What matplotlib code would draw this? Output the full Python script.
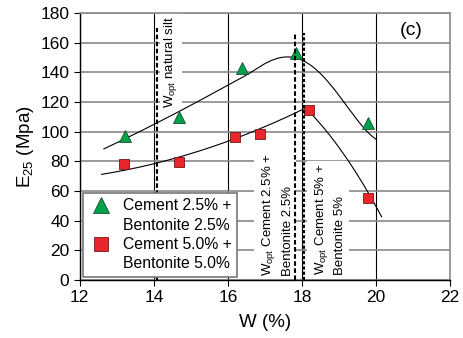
# E25 modulus vs water content, cement + bentonite mixes (panel c)

import numpy as np
import matplotlib
matplotlib.use("Agg")
import matplotlib.pyplot as plt
from matplotlib.lines import Line2D

plt.rcParams["font.family"] = ["Liberation Sans", "DejaVu Sans"]
plt.rcParams["mathtext.default"] = "regular"

# ==========================
# Data
# ==========================

# Cement 2.5% + Bentonite 2.5%
w_cb25 = [13.22, 14.68, 16.37, 17.83, 19.77]
e_cb25 = [97, 110, 143, 153, 105.6]

# Cement 5.0% + Bentonite 5.0%
w_cb50 = [13.18, 14.68, 16.19, 16.86, 18.19, 19.78]
e_cb50 = [78, 79.5, 96, 98, 114.6, 55.5]

# trend curves as drawn in the figure (rising part / peak + falling part)
curve25_up_w = [12.65, 13.98, 15.51, 15.78, 15.92, 16.37]
curve25_up_e = [88.3, 104.5, 124, 128, 131.5, 136]
curve25_dn_w = [15.92, 16.37, 16.64, 17.18, 17.68, 18.00,
                18.35, 18.62, 19.12, 19.57, 19.99]
curve25_dn_e = [131.5, 136, 140, 147.2, 151.2, 149.4,
                141.6, 134.8, 120, 106.7, 94.4]

curve50_up_w = [12.59, 13.98, 15.51, 16.19, 16.86, 18.04]
curve50_up_e = [70.8, 78.7, 89.4, 95.5, 100.5, 115.7]
curve50_dn_w = [18.04, 18.31, 19.12, 19.75, 20.15]
curve50_dn_e = [115.7, 112.3, 85.4, 58.4, 43.8]

# optimum water contents
w_opt_silt = 14.08
w_opt_25 = 17.81
w_opt_50 = 18.05

x_ticks = [12, 14, 16, 18, 20, 22]
y_ticks = list(range(0, 181, 20))

green = "#00a14b"
red = "#e8262c"

# ==========================
# Figure
# ==========================

fig = plt.figure(figsize=(4.64, 3.38), dpi=100)
ax = fig.add_axes([0.172, 0.172, 0.798, 0.790])

ax.set_xlim(12, 22)
ax.set_ylim(0, 180)
ax.set_xticks(x_ticks)
ax.set_yticks(y_ticks)
ax.tick_params(direction="out", length=4, labelsize=12.5, colors="black")

ax.set_axisbelow(True)
ax.xaxis.grid(True, color="black", lw=0.8)
ax.yaxis.grid(True, color="#8a8a8a", lw=1.2)
for s in ["top", "right"]:
    ax.spines[s].set_color("#8a8a8a")
    ax.spines[s].set_linewidth(1.2)
for s in ["left", "bottom"]:
    ax.spines[s].set_linewidth(1.0)

# smoothed trend curves
def smooth(xs, ys, deg):
    p = np.polyfit(xs, ys, deg)
    xx = np.linspace(xs[0], xs[-1], 200)
    return xx, np.polyval(p, xx)

# upper curve: blend the rising fit into the peak fit
p_up = np.polyfit(curve25_up_w, curve25_up_e, 2)
p_dn = np.polyfit(curve25_dn_w, curve25_dn_e, 4)
xx = np.linspace(curve25_up_w[0], curve25_dn_w[-1], 300)
t = np.clip((xx - 16.0) / 0.8, 0, 1)
t = t * t * (3 - 2 * t)
yy = (1 - t) * np.polyval(p_up, xx) + t * np.polyval(p_dn, xx)
ax.plot(xx, yy, color="black", lw=0.8, zorder=3)

for cw, ce, deg in [(curve50_up_w, curve50_up_e, 2),
                    (curve50_dn_w, curve50_dn_e, 2)]:
    xx, yy = smooth(cw, ce, deg)
    ax.plot(xx, yy, color="black", lw=0.8, zorder=3)

ax.plot(w_cb25, e_cb25, "^", ms=8.5, mfc=green, mec="#1d4d2a", mew=0.6, zorder=4)
ax.plot(w_cb50, e_cb50, "s", ms=7.5, mfc=red, mec="#7a1414", mew=0.6, zorder=4)

# optimum lines
ax.plot([w_opt_silt, w_opt_silt], [0, 170], color="black", lw=1.5, ls=(0, (2.2, 1.2)), zorder=5)
ax.plot([w_opt_25, w_opt_25], [0, 166.5], color="black", lw=1.5, ls=(0, (2.2, 1.2)), zorder=5)
ax.plot([w_opt_50, w_opt_50], [0, 166.5], color="black", lw=1.5, ls=(0, (1.5, 1.0)), zorder=5)

box = dict(facecolor="white", edgecolor="none", pad=2)
ax.text(14.46, 116, "W$_{opt}$ natural silt", rotation=90, rotation_mode="anchor",
        ha="left", va="center", fontsize=9.5, bbox=box, zorder=2)
ax.text(17.32, 2.5, "W$_{opt}$ Cement 2.5% +\nBentonite 2.5%", rotation=90,
        rotation_mode="anchor", ha="left", va="center", multialignment="left",
        linespacing=1.5, fontsize=9.5, bbox=box, zorder=2)
ax.text(18.74, 3, "W$_{opt}$ Cement 5% +\nBentonite 5%", rotation=90,
        rotation_mode="anchor", ha="left", va="center", multialignment="left",
        linespacing=1.5, fontsize=9.5, bbox=box, zorder=2)

ax.text(20.95, 168, "(c)", fontsize=14, ha="center", va="center")

ax.set_xlabel("W (%)", fontsize=13.5, labelpad=6)
ax.set_ylabel("E$_{25}$ (Mpa)", fontsize=13.5, labelpad=3)

# legend: marker next to first line of each label
blank = Line2D([], [], ls="none", marker="none")
handles = [
    Line2D([], [], ls="none", marker="^", ms=11.5, mfc=green, mec="#1d4d2a", mew=0.6),
    blank,
    Line2D([], [], ls="none", marker="s", ms=10, mfc=red, mec="#7a1414", mew=0.6),
    blank,
]
labels = ["Cement 2.5% +", "Bentonite 2.5%", "Cement 5.0% +", "Bentonite 5.0%"]
leg = ax.legend(handles, labels, loc="lower left", bbox_to_anchor=(0.008, 0.011),
                borderaxespad=0, fontsize=11.3, fancybox=False, framealpha=1,
                edgecolor="#777777", labelspacing=0.28, handlelength=1.6,
                handletextpad=0.6, borderpad=0.35)
leg.get_frame().set_linewidth(1.2)
leg.set_zorder(6)

fig.savefig("out.png", dpi=100)
